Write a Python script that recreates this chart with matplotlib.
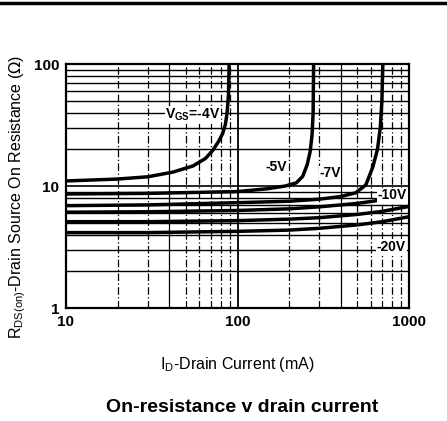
import matplotlib
matplotlib.use("Agg")
import matplotlib.pyplot as plt
from matplotlib.lines import Line2D

plt.rcParams['font.family'] = ['Liberation Sans', 'DejaVu Sans']

# Drain current (mA) and on-resistance (ohm) per gate voltage
i_4v = [10, 20, 30, 42, 55, 65, 72, 78, 82, 85, 87, 88.5, 89.5]
r_4v = [11.0, 11.4, 11.9, 13.0, 14.6, 16.8, 19.7, 23.5, 27, 32, 40, 55, 110]

i_5v = [10, 30, 100, 150, 190, 220, 240, 255, 265, 272, 276, 278]
r_5v = [8.6, 8.7, 9.0, 9.5, 10.0, 10.6, 12.0, 15.0, 19.0, 26.0, 40.0, 110.0]

i_7v = [10, 30, 100, 200, 300, 400, 490, 560, 615, 655, 680, 695, 705]
r_7v = [6.9, 7.0, 7.3, 7.5, 7.8, 8.2, 8.8, 10.2, 14.3, 20.0, 30.0, 50.0, 110.0]

i_10v = [10, 30, 100, 200, 300, 500, 700, 1000]
r_10v = [6.1, 6.15, 6.3, 6.5, 6.75, 7.2, 7.7, 8.4]

i_15v = [10, 30, 100, 200, 300, 500, 700, 1000]
r_15v = [5.1, 5.1, 5.2, 5.35, 5.5, 5.85, 6.2, 6.8]

i_20v = [10, 30, 100, 200, 300, 500, 700, 1000]
r_20v = [4.15, 4.15, 4.25, 4.35, 4.5, 4.8, 5.1, 5.6]

x_ticks = [10, 100, 1000]
x_tick_labels = ['10', '100', '1000']
y_ticks = [1, 10, 100]
y_tick_labels = ['1', '10', '100']

fig = plt.figure(figsize=(4.47, 4.21), dpi=100)
ax = fig.add_axes([66/447, 1-308/421, (409-66)/447, (308-64)/421])
ax.set_xscale('log')
ax.set_yscale('log')
ax.set_xlim(10, 1000)
ax.set_ylim(1, 100)

# grid
for d in [1, 10]:
    for k in range(2, 10):
        ax.axhline(k*d, color='black', lw=1.0, zorder=1)
ax.axhline(10, color='black', lw=1.2, zorder=1)
for d in [10, 100]:
    for k in range(2, 10):
        ls = (0, (6, 2, 1, 2)) if k not in (4,) else '-'
        ax.axvline(k*d, color='black', lw=0.9, ls=ls, zorder=1)
ax.axvline(100, color='black', lw=1.3, zorder=1)

for xs, ys in [(i_4v, r_4v), (i_5v, r_5v), (i_7v, r_7v),
               (i_10v, r_10v), (i_15v, r_15v), (i_20v, r_20v)]:
    ax.plot(xs, ys, color='black', lw=2.5, zorder=3, solid_capstyle='butt')

ax.set_xticks(x_ticks)
ax.set_xticklabels(x_tick_labels)
ax.set_yticks(y_ticks)
ax.set_yticklabels(y_tick_labels)
ax.minorticks_off()
ax.tick_params(length=0, labelsize=11, pad=5)
for lab in ax.get_xticklabels() + ax.get_yticklabels():
    lab.set_fontweight('bold')
for s in ax.spines.values():
    s.set_linewidth(1.6)

bb = dict(facecolor='white', edgecolor='none', pad=0.5)
fs = 10
ax.text(55, 38, r'V$_{\mathregular{GS}}$=-4V', fontsize=fs, fontweight='bold', ha='center', va='center', zorder=4, bbox=bb)
ax.text(168, 14.3, '-5V', fontsize=fs, fontweight='bold', ha='center', va='center', zorder=4, bbox=bb)
ax.text(346, 12.7, '-7V', fontsize=fs, fontweight='bold', ha='center', va='center', zorder=4, bbox=bb)
ax.text(800, 8.4, '-10V', fontsize=fs, fontweight='bold', ha='center', va='center', zorder=4, bbox=bb)
ax.text(790, 3.16, '-20V', fontsize=fs, fontweight='bold', ha='center', va='center', zorder=4, bbox=bb)

fig.text(237/447, 1-365/421, r'I$_{\mathregular{D}}$-Drain Current (mA)', fontsize=11.5, ha='center', va='center')
fig.text(18/447, 1-197/421, r'R$_{\mathregular{DS(on)}}$-Drain Source On Resistance ($\Omega$)', fontsize=11.5,
         ha='center', va='center', rotation=90)

fig.text(242/447, 1-407/421, 'On-resistance v drain current', fontsize=14, fontweight='bold', ha='center', va='center')
fig.add_artist(Line2D([0, 1], [1-3/421, 1-3/421], color='black', lw=2.5, transform=fig.transFigure))

fig.savefig('out.png', dpi=100)
